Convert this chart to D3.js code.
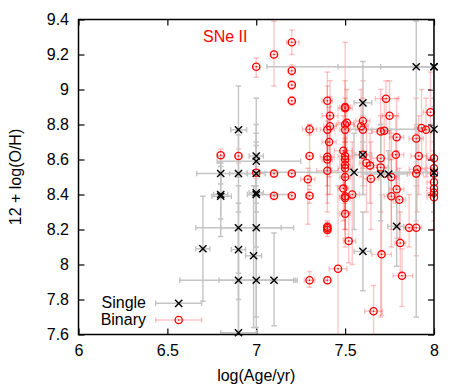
<!DOCTYPE html>
<html>
<head>
<meta charset="utf-8">
<script src="https://cdn.jsdelivr.net/npm/d3@7"></script>
<style>
body { margin: 0; background: #fff; }
text { font-family: "Liberation Sans", Arial, sans-serif; }
</style>
</head>
<body>
<div id="chart"></div>
<script>
// each row: x, y, x_low, x_high, y_low, y_high
let single_pts = [
    [6.80, 8.52, 6.665, 6.95, 8.46, 8.58],
    [6.90, 8.52, 6.85, 6.95, 8.30, 8.74],
    [7.00, 8.52, 6.95, 7.05, 8.35, 8.68],
    [6.80, 8.40, 6.76, 6.84, 8.26, 8.56],
    [6.80, 8.39, 6.75, 6.86, 8.16, 8.62],
    [7.00, 8.40, 6.95, 7.20, 8.10, 8.70],
    [7.00, 8.41, 6.96, 7.04, 8.30, 8.95],
    [6.90, 8.77, 6.856, 6.946, 8.50, 9.02],
    [7.00, 8.62, 6.96, 7.04, 8.40, 8.80],
    [7.00, 8.59, 6.78, 7.25, 8.45, 8.75],
    [6.90, 8.21, 6.66, 7.14, 7.95, 8.45],
    [7.00, 8.21, 6.80, 7.21, 7.70, 8.60],
    [6.70, 8.09, 6.66, 6.74, 7.79, 8.39],
    [6.90, 8.085, 6.86, 6.94, 7.80, 8.35],
    [6.985, 8.05, 6.94, 7.03, 7.64, 8.45],
    [6.90, 7.91, 6.57, 7.23, 7.60, 8.20],
    [7.00, 7.91, 6.79, 7.21, 7.64, 8.20],
    [7.10, 7.91, 6.90, 7.22, 7.65, 8.18],
    [6.90, 7.61, 6.80, 7.00, 7.30, 7.90],
    [7.90, 9.13, 7.06, 8.10, 7.70, 9.39],
    [8.00, 9.13, 7.46, 8.20, 8.90, 9.50],
    [8.00, 9.13, 7.70, 8.20, 8.95, 9.50],
    [7.60, 8.924, 7.55, 7.65, 8.70, 9.16],
    [8.00, 8.773, 7.50, 8.30, 8.50, 9.00],
    [7.60, 8.627, 7.55, 7.65, 8.40, 8.80],
    [7.55, 8.527, 7.00, 8.00, 8.20, 8.75],
    [7.70, 8.517, 7.60, 7.80, 8.25, 8.80],
    [7.745, 8.517, 7.70, 7.85, 8.40, 8.65],
    [8.00, 8.525, 7.30, 8.30, 8.30, 8.80],
    [7.60, 8.075, 7.55, 7.645, 7.85, 8.30],
    [7.79, 8.218, 7.74, 7.83, 7.99, 8.45]
];

let binary_pts = [
    [6.80, 8.624, 6.78, 6.82, 8.58, 8.66],
    [6.90, 8.62, 6.88, 6.92, 8.58, 8.66],
    [7.00, 8.525, 6.98, 7.02, 8.49, 8.56],
    [7.00, 9.13, 6.98, 7.02, 9.07, 9.18],
    [7.10, 9.20, 7.08, 7.12, 9.02, 9.39],
    [7.20, 9.27, 7.17, 7.24, 9.20, 9.34],
    [7.20, 9.107, 7.18, 7.22, 9.08, 9.14],
    [7.20, 9.026, 7.18, 7.22, 9.00, 9.05],
    [7.20, 8.936, 7.18, 7.22, 8.91, 8.96],
    [7.10, 8.52, 7.08, 7.12, 8.50, 8.54],
    [7.20, 8.52, 7.18, 7.22, 8.50, 8.54],
    [7.29, 8.487, 7.25, 7.33, 8.23, 8.55],
    [7.30, 8.773, 7.26, 7.34, 8.74, 8.80],
    [7.30, 8.62, 7.28, 7.32, 8.45, 8.80],
    [7.10, 8.393, 7.08, 7.12, 8.37, 8.41],
    [7.20, 8.393, 7.18, 7.22, 8.37, 8.41],
    [7.30, 8.393, 7.28, 7.32, 8.35, 8.43],
    [7.30, 7.91, 7.27, 7.33, 7.87, 7.96],
    [7.40, 7.91, 7.38, 7.42, 7.89, 7.93],
    [7.40, 8.936, 7.37, 7.43, 8.60, 9.10],
    [7.415, 8.85, 7.37, 7.46, 8.40, 9.05],
    [7.40, 8.77, 7.36, 7.44, 8.30, 9.02],
    [7.415, 8.79, 7.38, 7.45, 8.55, 8.96],
    [7.41, 8.70, 7.37, 7.45, 8.50, 8.90],
    [7.40, 8.616, 7.36, 7.44, 8.40, 8.82],
    [7.40, 8.60, 7.37, 7.43, 8.45, 8.75],
    [7.40, 8.536, 7.34, 7.46, 8.35, 8.70],
    [7.40, 8.216, 7.38, 7.42, 8.18, 8.25],
    [7.40, 8.207, 7.38, 7.42, 8.18, 8.24],
    [7.40, 8.197, 7.38, 7.42, 8.16, 8.23],
    [7.46, 7.976, 7.41, 7.51, 7.50, 8.45],
    [7.52, 8.134, 7.49, 7.56, 8.01, 8.30],
    [7.50, 8.90, 7.47, 7.53, 8.60, 9.27],
    [7.50, 8.893, 7.46, 7.54, 8.70, 9.05],
    [7.51, 8.81, 7.46, 7.55, 8.60, 9.00],
    [7.50, 8.80, 7.45, 7.55, 8.55, 8.95],
    [7.50, 8.77, 7.47, 7.53, 8.50, 8.90],
    [7.49, 8.65, 7.44, 7.54, 8.45, 8.85],
    [7.50, 8.62, 7.46, 7.54, 8.40, 8.80],
    [7.50, 8.60, 7.47, 7.53, 8.35, 8.75],
    [7.50, 8.57, 7.47, 7.53, 8.40, 8.72],
    [7.50, 8.55, 7.46, 7.54, 8.30, 8.70],
    [7.50, 8.50, 7.47, 7.53, 8.20, 8.65],
    [7.49, 8.435, 7.46, 7.52, 8.25, 8.60],
    [7.50, 8.39, 7.47, 7.53, 8.20, 8.55],
    [7.50, 8.38, 7.47, 7.53, 8.15, 8.50],
    [7.50, 8.29, 7.47, 7.53, 8.10, 8.45],
    [7.54, 8.40, 7.50, 7.58, 8.00, 8.70],
    [7.60, 8.82, 7.56, 7.64, 8.55, 9.05],
    [7.59, 8.79, 7.55, 7.63, 8.50, 9.00],
    [7.60, 8.77, 7.56, 7.65, 8.45, 8.95],
    [7.60, 8.627, 7.56, 7.64, 8.40, 8.85],
    [7.62, 8.58, 7.58, 7.66, 8.30, 8.80],
    [7.64, 8.566, 7.60, 7.68, 8.35, 8.75],
    [7.645, 8.49, 7.60, 7.69, 8.20, 8.70],
    [7.70, 8.76, 7.65, 7.75, 8.50, 9.00],
    [7.72, 8.765, 7.68, 7.76, 8.55, 8.95],
    [7.73, 8.947, 7.67, 7.80, 8.75, 9.05],
    [7.75, 8.85, 7.71, 7.80, 8.60, 9.05],
    [7.79, 8.727, 7.75, 7.83, 8.45, 8.95],
    [7.70, 8.607, 7.65, 7.75, 8.30, 8.85],
    [7.70, 8.555, 7.66, 7.74, 7.70, 8.80],
    [7.76, 8.50, 7.72, 7.80, 8.20, 8.75],
    [7.785, 8.627, 7.74, 7.83, 8.35, 8.85],
    [7.79, 8.43, 7.75, 7.83, 8.15, 8.65],
    [7.76, 8.39, 7.72, 7.80, 8.10, 8.60],
    [7.805, 8.37, 7.77, 7.84, 8.15, 8.55],
    [7.705, 8.058, 7.65, 7.76, 7.71, 8.40],
    [7.66, 7.733, 7.61, 7.71, 7.40, 7.88],
    [7.81, 8.123, 7.78, 7.84, 7.95, 8.30],
    [7.82, 7.936, 7.77, 7.88, 7.76, 8.09],
    [7.86, 8.21, 7.83, 7.89, 8.10, 8.40],
    [7.90, 8.21, 7.87, 7.93, 8.05, 8.45],
    [7.90, 8.72, 7.86, 7.94, 8.50, 8.95],
    [7.914, 8.62, 7.87, 7.96, 8.40, 8.85],
    [7.905, 8.544, 7.86, 7.95, 8.30, 8.75],
    [7.90, 8.52, 7.86, 7.94, 8.25, 8.80],
    [7.93, 8.78, 7.89, 7.97, 8.55, 9.00],
    [7.955, 8.77, 7.91, 8.00, 8.50, 8.95],
    [7.98, 8.87, 7.94, 8.02, 8.60, 9.10],
    [8.00, 8.607, 7.96, 8.04, 8.40, 8.80],
    [8.00, 8.55, 7.96, 8.04, 8.35, 8.75],
    [8.00, 8.52, 7.96, 8.04, 8.30, 8.70],
    [8.00, 8.47, 7.96, 8.04, 8.30, 8.65],
    [8.00, 8.435, 7.96, 8.04, 8.25, 8.60],
    [8.00, 8.41, 7.96, 8.04, 8.20, 8.60],
    [8.00, 8.385, 7.96, 8.04, 8.20, 8.55]
];

let x_ticks = [6, 6.5, 7, 7.5, 8];
let y_ticks = [7.6, 7.8, 8, 8.2, 8.4, 8.6, 8.8, 9, 9.2, 9.4];
let series_names = ['Single', 'Binary'];

//----------------------------------------
// SVG setup
let width = 463,
    height = 386;
let p_left = 78.5, p_right = 434, p_top = 19.5, p_bottom = 334.5;

let svg = d3.select('#chart').append('svg')
    .attr('width', width)
    .attr('height', height);

let x = d3.scaleLinear().domain([6, 8]).range([p_left, p_right]);
let y = d3.scaleLinear().domain([7.6, 9.4]).range([p_bottom, p_top]);

let grey = '#c4c4c4',
    pink = 'rgba(255, 0, 0, 0.22)',
    cap = 2.7;

svg.append('clipPath').attr('id', 'plot-clip')
    .append('rect')
    .attr('x', p_left).attr('y', p_top)
    .attr('width', p_right - p_left).attr('height', p_bottom - p_top);

//----------------------------------------
// Axes (gnuplot style: ticks inside, mirrored)
let fmt = d => String(d);

svg.append('g')
    .attr('transform', 'translate(0,' + p_bottom + ')')
    .call(d3.axisBottom(x).tickValues(x_ticks).tickFormat(fmt)
        .tickSizeInner(-6).tickSizeOuter(0).tickPadding(10));
svg.append('g')
    .attr('transform', 'translate(0,' + p_top + ')')
    .call(d3.axisTop(x).tickValues(x_ticks).tickFormat('')
        .tickSizeInner(-6).tickSizeOuter(0));
svg.append('g')
    .attr('transform', 'translate(' + p_left + ',0)')
    .call(d3.axisLeft(y).tickValues(y_ticks).tickFormat(fmt)
        .tickSizeInner(-6).tickSizeOuter(0).tickPadding(9.5));
svg.append('g')
    .attr('transform', 'translate(' + p_right + ',0)')
    .call(d3.axisRight(y).tickValues(y_ticks).tickFormat('')
        .tickSizeInner(-6).tickSizeOuter(0));

svg.selectAll('.tick text')
    .style('font-size', '16px')
    .style('font-family', '"Liberation Sans", Arial, sans-serif')
    .style('fill', '#000');
svg.selectAll('.tick line').style('stroke', '#000').style('stroke-width', 1.2);
svg.selectAll('.domain').remove();

//----------------------------------------
// Error bars
function draw_bars(pts, color) {
    let g = svg.append('g').attr('clip-path', 'url(#plot-clip)')
        .style('stroke', color).style('stroke-width', 1.4);
    pts.forEach(function(p) {
        let cx = x(p[0]), cy = y(p[1]);
        let x0 = x(p[2]), x1 = x(p[3]), y0 = y(p[4]), y1 = y(p[5]);
        g.append('line').attr('x1', x0).attr('x2', x1).attr('y1', cy).attr('y2', cy);
        g.append('line').attr('x1', x0).attr('x2', x0).attr('y1', cy - cap).attr('y2', cy + cap);
        g.append('line').attr('x1', x1).attr('x2', x1).attr('y1', cy - cap).attr('y2', cy + cap);
        g.append('line').attr('x1', cx).attr('x2', cx).attr('y1', y0).attr('y2', y1);
        g.append('line').attr('x1', cx - cap).attr('x2', cx + cap).attr('y1', y0).attr('y2', y0);
        g.append('line').attr('x1', cx - cap).attr('x2', cx + cap).attr('y1', y1).attr('y2', y1);
    });
}

function cross_path(cx, cy) {
    let s = 3.6;
    return 'M' + (cx - s) + ',' + (cy - s) + 'L' + (cx + s) + ',' + (cy + s) +
        'M' + (cx - s) + ',' + (cy + s) + 'L' + (cx + s) + ',' + (cy - s);
}

function draw_circles(pts) {
    let g = svg.append('g');
    g.selectAll('circle.ring')
        .data(pts)
        .enter()
        .append('circle')
        .attr('class', 'ring')
        .attr('cx', d => x(d[0]))
        .attr('cy', d => y(d[1]))
        .attr('r', 3.6)
        .style('fill', 'none')
        .style('stroke', '#ff0000')
        .style('stroke-width', 1.3);
    g.selectAll('circle.dot')
        .data(pts)
        .enter()
        .append('circle')
        .attr('class', 'dot')
        .attr('cx', d => x(d[0]))
        .attr('cy', d => y(d[1]))
        .attr('r', 0.8)
        .style('fill', '#ff0000');
}

function draw_crosses(pts) {
    svg.append('g').selectAll('path')
        .data(pts)
        .enter()
        .append('path')
        .attr('d', d => cross_path(x(d[0]), y(d[1])))
        .style('fill', 'none')
        .style('stroke', '#000')
        .style('stroke-width', 1.4);
}

draw_bars(binary_pts, pink);
draw_bars(single_pts, grey);
draw_circles(binary_pts);
draw_crosses(single_pts);

// frame
svg.append('rect')
    .attr('x', p_left).attr('y', p_top)
    .attr('width', p_right - p_left).attr('height', p_bottom - p_top)
    .style('fill', 'none')
    .style('stroke', '#000')
    .style('stroke-width', 1.5);

//----------------------------------------
// Labels
svg.append('text')
    .attr('x', (p_left + p_right) / 2).attr('y', 381)
    .attr('text-anchor', 'middle')
    .style('font-size', '16px')
    .text('log(Age/yr)');

svg.append('text')
    .attr('transform', 'translate(21,' + ((p_top + p_bottom) / 2) + ') rotate(-90)')
    .attr('text-anchor', 'middle')
    .style('font-size', '16px')
    .text('12 + log(O/H)');

svg.append('text')
    .attr('x', 203).attr('y', 42)
    .style('font-size', '16px')
    .style('fill', '#ff0000')
    .text('SNe II');

//----------------------------------------
// Legend
let leg_y = [303.3, 320];
let leg = svg.append('g');
series_names.forEach(function(name, i) {
    let ly = leg_y[i];
    leg.append('text')
        .attr('x', 146).attr('y', ly + 5)
        .attr('text-anchor', 'end')
        .style('font-size', '16px')
        .text(name);
    let col = i === 0 ? grey : pink;
    let gl = leg.append('g').style('stroke', col).style('stroke-width', 1.4);
    gl.append('line').attr('x1', 155.7).attr('x2', 201.7).attr('y1', ly).attr('y2', ly);
    gl.append('line').attr('x1', 155.7).attr('x2', 155.7).attr('y1', ly - cap).attr('y2', ly + cap);
    gl.append('line').attr('x1', 201.7).attr('x2', 201.7).attr('y1', ly - cap).attr('y2', ly + cap);
    if (i === 0) {
        leg.append('path').attr('d', cross_path(178.7, ly))
            .style('fill', 'none').style('stroke', '#000').style('stroke-width', 1.4);
    } else {
        leg.append('circle').attr('cx', 178.7).attr('cy', ly).attr('r', 3.6)
            .style('fill', 'none').style('stroke', '#ff0000').style('stroke-width', 1.3);
        leg.append('circle').attr('cx', 178.7).attr('cy', ly).attr('r', 0.8)
            .style('fill', '#ff0000');
    }
});
</script>
</body>
</html>
